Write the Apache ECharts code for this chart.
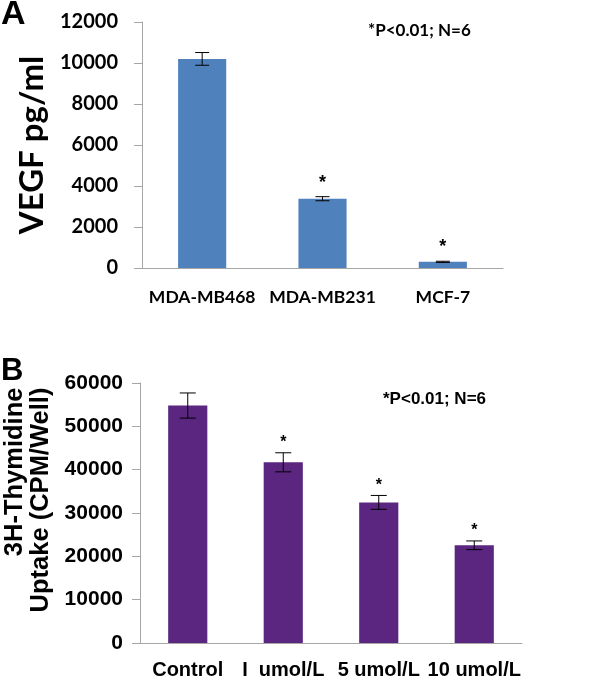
<!DOCTYPE html>
<html>
<head>
<meta charset="utf-8">
<script src="https://cdn.jsdelivr.net/npm/echarts@6/dist/echarts.min.js"></script>
<style>
  html, body { margin: 0; padding: 0; background: #fff; }
  #chart { width: 600px; height: 681px; }
</style>
</head>
<body>
<div id="chart"></div>
<script>
// panel A: VEGF secretion
const cellLines = ["MDA-MB468", "MDA-MB231", "MCF-7"];
const vegfValues = [10200, 3380, 300];
const vegfErrors = [310, 100, 30];
const vegfMarks = ["", "*", "*"];
const vegfTicks = { min: 0, max: 12000, interval: 2000 };

// panel B: 3H-thymidine uptake
const doses = ["Control", "I  umol/L", "5 umol/L", "10 umol/L"];
const uptakeValues = [54800, 41700, 32450, 22550];
const uptakeErrors = [2900, 2200, 1600, 1000];
const uptakeMarks = ["", "*", "*", "*"];
const uptakeTicks = { min: 0, max: 60000, interval: 10000 };

const chart = echarts.init(document.getElementById("chart"));

const axisGray = "#a6a6a6";
const fontA = "Lato";
const fontB = "Liberation Sans";
const plain = (v) => String(v);

// error bar + significance star drawn with the axis scales
function errorBars(marks, capHalf, starGap, starFont) {
  return function (params, api) {
    const i = api.value(0);
    const v = api.value(1);
    const e = api.value(2);
    const top = api.coord([i, v + e]);
    const bot = api.coord([i, v - e]);
    const style = { stroke: "#000", lineWidth: 1 };
    const children = [
      { type: "line", shape: { x1: top[0], y1: top[1], x2: bot[0], y2: bot[1] }, style },
      { type: "line", shape: { x1: top[0] - capHalf, y1: top[1], x2: top[0] + capHalf, y2: top[1] }, style },
      { type: "line", shape: { x1: bot[0] - capHalf, y1: bot[1], x2: bot[0] + capHalf, y2: bot[1] }, style },
    ];
    const m = marks[params.dataIndex];
    if (m) {
      children.push({
        type: "text",
        style: {
          text: m, x: top[0], y: top[1] - starGap,
          align: "center", verticalAlign: "middle",
          font: starFont, fill: "#000",
        },
      });
    }
    return { type: "group", children };
  };
}

const option = {
  animation: false,
  title: [
    { text: "A", left: 1, top: -2, padding: 0,
      textStyle: { fontSize: 34, fontWeight: "bold", fontFamily: fontB, color: "#000" } },
    { text: "*P<0.01; N=6", left: 368, top: 22, padding: 0,
      textStyle: { fontSize: 17, fontWeight: "bold", fontFamily: fontA, color: "#000" } },
    { text: "B", left: 1, top: 356, padding: 0,
      textStyle: { fontSize: 31, fontWeight: "bold", fontFamily: fontB, color: "#000" } },
    { text: "*P<0.01; N=6", left: 383, top: 391, padding: 0,
      textStyle: { fontSize: 17, fontWeight: "bold", fontFamily: fontB, color: "#000" } },
  ],
  grid: [
    { left: 142, top: 22, width: 361, height: 246, outerBoundsMode: "none" },
    { left: 140, top: 383, width: 382, height: 260, outerBoundsMode: "none" },
  ],
  xAxis: [
    {
      gridIndex: 0, type: "category", data: cellLines,
      axisLine: { lineStyle: { color: axisGray } },
      axisTick: { length: 7, lineStyle: { color: axisGray } },
      axisLabel: { interval: 0, color: "#000", fontFamily: fontA, fontWeight: "bold", fontSize: 17.5, margin: 20 },
    },
    {
      gridIndex: 1, type: "category", data: doses,
      axisLine: { lineStyle: { color: axisGray } },
      axisTick: { length: 7, lineStyle: { color: axisGray } },
      axisLabel: { interval: 0, color: "#000", fontFamily: fontB, fontWeight: "bold", fontSize: 20, margin: 17 },
    },
  ],
  yAxis: [
    {
      gridIndex: 0, type: "value", ...vegfTicks,
      name: "VEGF pg/ml", nameLocation: "middle", nameGap: 84,
      nameTextStyle: { color: "#000", fontFamily: fontA, fontWeight: "bold", fontSize: 33 },
      axisLine: { show: true, lineStyle: { color: axisGray } },
      axisTick: { show: true, length: 8, lineStyle: { color: axisGray } },
      splitLine: { show: false },
      axisLabel: { formatter: plain, color: "#000", fontFamily: fontA, fontWeight: "bold", fontSize: 20, margin: 24 },
    },
    {
      gridIndex: 1, type: "value", ...uptakeTicks,
      name: "{r|3H-Thymidine}\n{r|Uptake (CPM/Well)}", nameLocation: "middle", nameGap: 74,
      nameTextStyle: {
        color: "#000", fontFamily: fontB, fontWeight: "bold", fontSize: 25.5, lineHeight: 26,
        padding: [0, 0, 0, 26],
        rich: { r: { align: "right", color: "#000", fontFamily: fontB, fontWeight: "bold", fontSize: 25.5, lineHeight: 26 } },
      },
      axisLine: { show: true, lineStyle: { color: axisGray } },
      axisTick: { show: true, length: 8, lineStyle: { color: axisGray } },
      splitLine: { show: false },
      axisLabel: { formatter: plain, color: "#000", fontFamily: fontB, fontWeight: "bold", fontSize: 21, margin: 17 },
    },
  ],
  series: [
    {
      type: "bar", xAxisIndex: 0, yAxisIndex: 0, data: vegfValues,
      barWidth: "40%", itemStyle: { color: "#4f81bd" },
    },
    {
      type: "custom", xAxisIndex: 0, yAxisIndex: 0,
      data: vegfValues.map((v, i) => [i, v, vegfErrors[i]]),
      renderItem: errorBars(vegfMarks, 7, 14, "bold 18px 'Liberation Sans'"),
      z: 5,
    },
    {
      type: "bar", xAxisIndex: 1, yAxisIndex: 1, data: uptakeValues,
      barWidth: "41%", itemStyle: { color: "#5a2680" },
    },
    {
      type: "custom", xAxisIndex: 1, yAxisIndex: 1,
      data: uptakeValues.map((v, i) => [i, v, uptakeErrors[i]]),
      renderItem: errorBars(uptakeMarks, 8, 10, "bold 16px 'Liberation Sans'"),
      z: 5,
    },
  ],
};

chart.setOption(option);
</script>
</body>
</html>
